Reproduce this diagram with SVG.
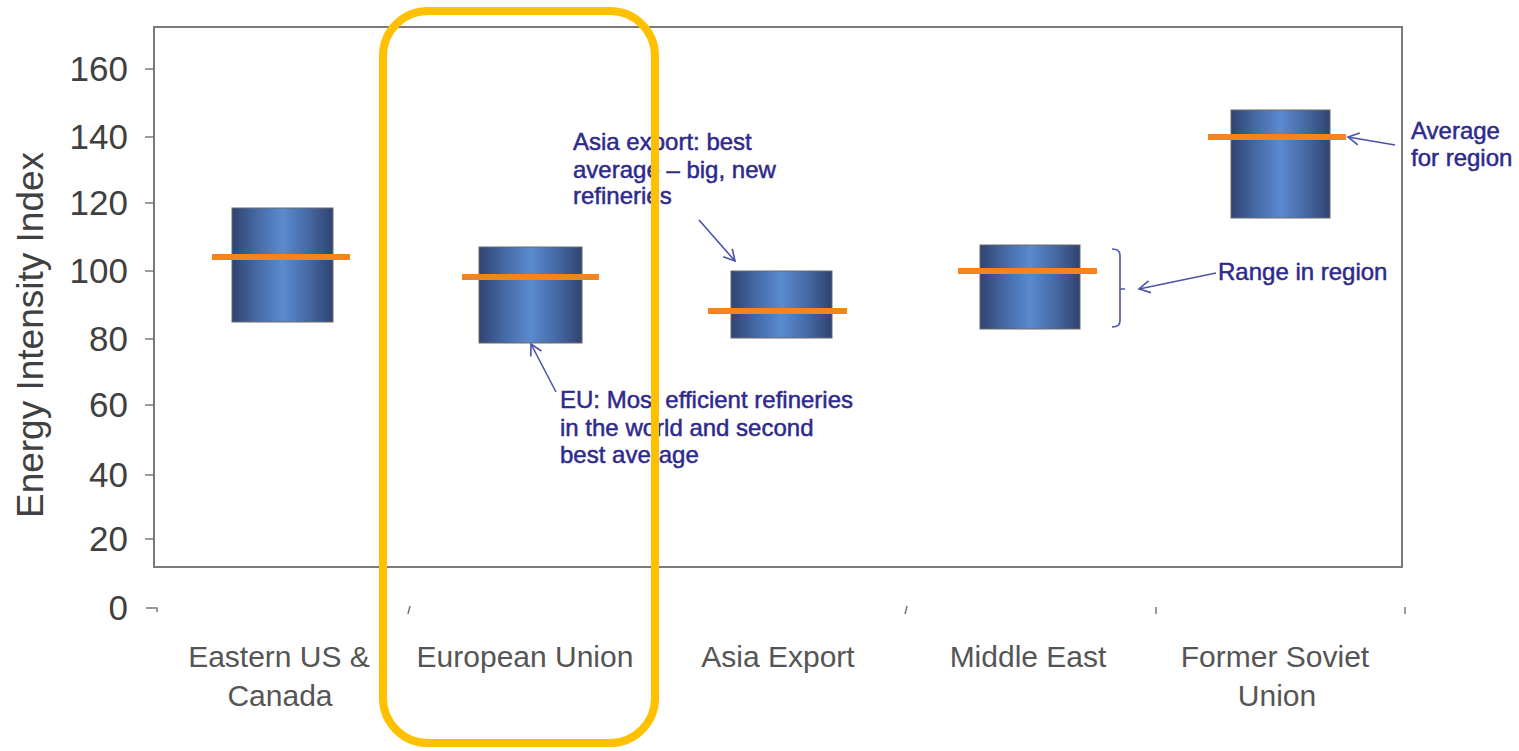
<svg xmlns="http://www.w3.org/2000/svg" width="1519" height="751" viewBox="0 0 1519 751">
<defs>
<linearGradient id="barGrad" x1="0" y1="0" x2="1" y2="0">
<stop offset="0" stop-color="#2f4470"/>
<stop offset="0.25" stop-color="#4669a6"/>
<stop offset="0.5" stop-color="#5b8acf"/>
<stop offset="0.75" stop-color="#4669a6"/>
<stop offset="1" stop-color="#2f4470"/>
</linearGradient>
<marker id="arr" markerWidth="14" markerHeight="14" refX="12" refY="7" orient="auto" markerUnits="userSpaceOnUse">
<path d="M1,1 L12,7 L1,13" fill="none" stroke="#4a55a8" stroke-width="1.6"/>
</marker>
</defs>
<style>
.frame{fill:none;stroke:#7a7a7a;stroke-width:2}
.tick{stroke:#7a7a7a;stroke-width:1.5}
.ylab{font-family:"Liberation Sans",Arial,sans-serif;font-size:35px;fill:#404040;text-anchor:end}
.cat{font-family:"Liberation Sans",Arial,sans-serif;font-size:30px;fill:#555;text-anchor:middle}
.bar{fill:url(#barGrad);stroke:#6a6a6a;stroke-width:1}
.avg{stroke:#f5841f;stroke-width:6}
.note{font-family:"Liberation Sans",Arial,sans-serif;font-size:24px;fill:#2e2a8c;stroke:#2e2a8c;stroke-width:0.5}
.conn{fill:none;stroke:#4a55a8;stroke-width:1.6}
</style>
<rect width="1519" height="751" fill="#ffffff"/>
<g id="axes">
<rect class="frame" x="154" y="27" width="1248" height="540"/>
<line class="tick" x1="145" y1="69" x2="154" y2="69"/>
<line class="tick" x1="145" y1="137" x2="154" y2="137"/>
<line class="tick" x1="145" y1="203" x2="154" y2="203"/>
<line class="tick" x1="145" y1="271" x2="154" y2="271"/>
<line class="tick" x1="145" y1="339" x2="154" y2="339"/>
<line class="tick" x1="145" y1="405" x2="154" y2="405"/>
<line class="tick" x1="145" y1="475" x2="154" y2="475"/>
<line class="tick" x1="145" y1="539" x2="154" y2="539"/>
<path class="tick" d="M146,608 L157,608 L157,612" fill="none"/>
<line class="tick" x1="410" y1="606" x2="408" y2="614"/>
<line class="tick" x1="907" y1="606" x2="905" y2="614"/>
<line class="tick" x1="1156" y1="607" x2="1156" y2="614"/>
<line class="tick" x1="1405" y1="607" x2="1405" y2="614"/>
<text class="ylab" x="128" y="81">160</text>
<text class="ylab" x="128" y="149">140</text>
<text class="ylab" x="128" y="215">120</text>
<text class="ylab" x="128" y="283">100</text>
<text class="ylab" x="128" y="351">80</text>
<text class="ylab" x="128" y="417">60</text>
<text class="ylab" x="128" y="487">40</text>
<text class="ylab" x="128" y="551">20</text>
<text class="ylab" x="128" y="620">0</text>
<text font-family="Liberation Sans, Arial, sans-serif" font-size="37" fill="#404040" text-anchor="middle" transform="translate(43,335) rotate(-90)">Energy Intensity Index</text>
</g>
<g id="bar-eastern-us">
<rect class="bar" x="232" y="208" width="101" height="114"/>
<line class="avg" x1="212" y1="257" x2="350" y2="257"/>
<text class="cat" x="279" y="667">Eastern US &amp;</text>
<text class="cat" x="280" y="706">Canada</text>
</g>
<g id="bar-eu">
<rect class="bar" x="479" y="247" width="103" height="96"/>
<line class="avg" x1="462" y1="277" x2="599" y2="277"/>
<text class="cat" x="525" y="667">European Union</text>
</g>
<g id="bar-asia">
<rect class="bar" x="731" y="271" width="101" height="67"/>
<line class="avg" x1="708" y1="311" x2="847" y2="311"/>
<text class="cat" x="778" y="667">Asia Export</text>
</g>
<g id="bar-middle-east">
<rect class="bar" x="980" y="245" width="100" height="84"/>
<line class="avg" x1="958" y1="271" x2="1097" y2="271"/>
<text class="cat" x="1028" y="667">Middle East</text>
</g>
<g id="bar-fsu">
<rect class="bar" x="1231" y="110" width="99" height="108"/>
<line class="avg" x1="1208" y1="137" x2="1346" y2="137"/>
<text class="cat" x="1275" y="667">Former Soviet</text>
<text class="cat" x="1277" y="706">Union</text>
</g>
<g id="note-asia">
<text class="note" x="573" y="150">Asia export: best</text>
<text class="note" x="573" y="178">average – big, new</text>
<text class="note" x="573" y="204">refineries</text>
</g>
<g id="note-eu">
<text class="note" x="560" y="408">EU: Most efficient refineries</text>
<text class="note" x="560" y="436">in the world and second</text>
<text class="note" x="560" y="463">best average</text>
</g>
<g id="note-average">
<text class="note" x="1411" y="139" font-size="23">Average</text>
<text class="note" x="1411" y="166" font-size="23">for region</text>
</g>
<g id="note-range">
<text class="note" x="1218" y="280" font-size="25">Range in region</text>
<path class="conn" d="M1112,249 Q1120,249 1120,255 L1120,321 Q1120,327 1112,327 M1120,289 L1125,289"/>
</g>
<g id="connectors">
<line class="conn" x1="699" y1="220" x2="735" y2="261" marker-end="url(#arr)"/>
<line class="conn" x1="556" y1="392" x2="531" y2="344" marker-end="url(#arr)"/>
<line class="conn" x1="1395" y1="145" x2="1348" y2="137" marker-end="url(#arr)"/>
<line class="conn" x1="1216" y1="273" x2="1139" y2="289" marker-end="url(#arr)"/>
</g>
<g id="highlight">
<rect x="383" y="11" width="272" height="732" rx="45" ry="45" fill="none" stroke="#ffc000" stroke-width="8"/>
</g>
</svg>
